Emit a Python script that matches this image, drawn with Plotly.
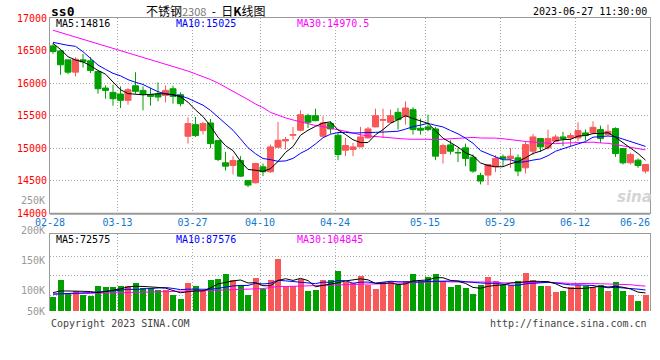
import plotly.graph_objects as go
import pandas as pd

# ---------------- data ----------------
dates = ["02-28",
         "03-01", "03-02", "03-03", "03-06", "03-07", "03-08", "03-09", "03-10", "03-13", "03-14",
         "03-15", "03-16", "03-17", "03-20", "03-21", "03-22", "03-23", "03-24", "03-27", "03-28",
         "03-29", "03-30", "03-31",
         "04-03", "04-04", "04-06", "04-07", "04-10", "04-11", "04-12", "04-13", "04-14", "04-17",
         "04-18", "04-19", "04-20", "04-21", "04-24", "04-25", "04-26", "04-27", "04-28",
         "05-04", "05-05", "05-08", "05-09", "05-10", "05-11", "05-12", "05-15", "05-16", "05-17",
         "05-18", "05-19", "05-22", "05-23", "05-24", "05-25", "05-26", "05-29", "05-30", "05-31",
         "06-01", "06-02", "06-05", "06-06", "06-07", "06-08", "06-09", "06-12", "06-13", "06-14",
         "06-15", "06-16", "06-19", "06-20", "06-21", "06-26", "06-27"]

opens = [16571, 16495, 16357, 16168, 16357, 16342, 16179, 15924, 15857, 15832,
         15735, 15959, 15888, 15822, 15832, 15811, 15913, 15822, 15184, 15362,
         15270, 15388, 15117, 14776, 14735, 14812, 14505, 14469, 14714, 14638,
         15015, 15112, 15199, 15276, 15500, 15500, 15184, 15378, 15199, 14969,
         14980, 15020, 15158, 15327, 15429, 15398, 15551, 15490, 15592, 15306,
         15327, 15296, 14918, 15051, 14934, 15005, 14862, 14582, 14587, 14714,
         14867, 14842, 14852, 14699, 14954, 15148, 15005, 15107, 15173, 15158,
         15158, 15235, 15235, 15286, 15209, 15301, 14995, 14775, 14816, 14648]
highs = [16612, 16520, 16357, 16398, 16449, 16398, 16179, 15964, 15975, 15950,
         15924, 16168, 15950, 15930, 16010, 15964, 15959, 15857, 15474, 15480,
         15403, 15449, 15117, 14944, 14878, 14878, 14505, 14776, 14765, 15056,
         15403, 15173, 15327, 15582, 15531, 15607, 15490, 15413, 15235, 15158,
         15082, 15327, 15327, 15607, 15607, 15592, 15617, 15719, 15628, 15454,
         15515, 15327, 15071, 15122, 15005, 15071, 14903, 14622, 14750, 14893,
         14903, 15005, 14903, 15107, 15219, 15148, 15286, 15209, 15250, 15235,
         15398, 15286, 15413, 15347, 15362, 15321, 15005, 14929, 14842, 14750]
lows = [16449, 16128, 16138, 16102, 16240, 16153, 15837, 15760, 15653, 15617,
        15668, 15837, 15582, 15653, 15720, 15704, 15684, 15643, 15071, 15173,
        15209, 15000, 14801, 14658, 14597, 14561, 14403, 14459, 14571, 14622,
        15005, 14980, 15133, 15260, 15311, 15413, 15184, 15224, 14816, 14878,
        14878, 15020, 15148, 15322, 15158, 15388, 15286, 15362, 15209, 15209,
        15260, 14816, 14765, 14903, 14786, 14725, 14622, 14444, 14434, 14633,
        14725, 14699, 14571, 14612, 14893, 14944, 14980, 15092, 15031, 15031,
        15107, 15117, 15235, 15082, 15194, 14867, 14750, 14750, 14699, 14612]
closes = [16485, 16281, 16168, 16367, 16327, 16194, 15913, 15888, 15760, 15735,
          15898, 15873, 15832, 15796, 15786, 15888, 15796, 15684, 15378, 15194,
          15378, 15071, 14827, 14724, 14812, 14571, 14434, 14765, 14638, 15020,
          15122, 15132, 15209, 15515, 15398, 15423, 15388, 15296, 14903, 15041,
          15020, 15173, 15296, 15500, 15439, 15500, 15439, 15617, 15286, 15276,
          15286, 14878, 15041, 14954, 14929, 14842, 14648, 14495, 14750, 14842,
          14842, 14878, 14648, 15056, 15173, 15020, 15148, 15173, 15143, 15194,
          15270, 15194, 15321, 15148, 15260, 14918, 14775, 14903, 14735, 14750]
volumes = [58000, 127000, 69000, 82000, 65000, 61000, 102000, 97000, 97000, 102000,
           102000, 115000, 93000, 93000, 86000, 86000, 65000, 47000, 116000, 102000,
           86000, 127000, 131000, 152000, 127000, 106000, 65000, 137000, 89000, 127000,
           214000, 102000, 102000, 131000, 82000, 86000, 127000, 127000, 165000, 118000,
           113000, 144000, 106000, 91000, 118000, 124000, 106000, 124000, 152000, 124000,
           138000, 152000, 124000, 97000, 106000, 93000, 69000, 106000, 138000, 124000,
           106000, 106000, 123000, 155000, 127000, 102000, 102000, 79000, 83000, 100000,
           106000, 102000, 100000, 106000, 83000, 120000, 83000, 65000, 41000, 65000]

# moving-average values before a full window exists
ma5_head = [16610, 16518, 16405, 16354]
ma10_head = [16626, 16600, 16580, 16565, 16482, 16380, 16277, 16211, 16150]
ma30_head = [16812, 16777, 16743, 16708, 16674, 16639, 16604, 16570, 16535, 16501,
             16466, 16432, 16397, 16362, 16332, 16293, 16255, 16224, 16185, 16142,
             16101, 16055, 16001, 15939, 15878, 15816, 15747, 15678, 15624]
vol_ma5_head = [76000, 83000, 83000, 82000]
vol_ma10_head = [70000, 72000, 73000, 74000, 75000, 76000, 78000, 80000, 83000]
vol_ma30_head = [70000, 71000, 71500, 72000, 72500, 73000, 74000, 74500, 75000, 76000,
                 76500, 77000, 78000, 78500, 79000, 80000, 80500, 81000, 82000, 83000,
                 84000, 85000, 86000, 87000, 88000, 89000, 90000, 91000, 93000]

tick_dates = ["02-28", "03-13", "03-27", "04-10", "04-24", "05-15", "05-29", "06-12", "06-26"]
grid_dates = ["03-13", "03-27", "04-10", "04-24", "05-15", "05-29", "06-12"]
price_ticks = [14000, 14500, 15000, 15500, 16000, 16500, 17000]
vol_grid = [65000, 147000, 227000]
vol_labels = ["250K", "200K", "150K", "100K", "50K"]

title_name = "不锈钢"
title_code = "2308"
symbol = "ss0"
stamp = "2023-06-27 11:30:00"
ma_price_text = ["MA5:14816", "MA10:15025", "MA30:14970.5"]
ma_vol_text = ["MA5:72575", "MA10:87576", "MA30:104845"]

# ---------------- derived ----------------
RED = "#F95858"
GREEN = "#00A000"
MONO = "DejaVu Sans Mono"


def moving(vals, n, head):
    s = pd.Series(vals, dtype=float).rolling(n).mean().tolist()
    return list(head) + s[len(head):]


idx = list(range(len(dates)))
ma5 = moving(closes, 5, ma5_head)
ma10 = moving(closes, 10, ma10_head)
ma30 = moving(closes, 30, ma30_head)
vma5 = moving(volumes, 5, vol_ma5_head)
vma10 = moving(volumes, 10, vol_ma10_head)
vma30 = moving(volumes, 30, vol_ma30_head)
vcolors = [RED if c >= o else GREEN for o, c in zip(opens, closes)]

label_pos = [dates.index(d) - 0.4 for d in tick_dates]
grid_pos = [dates.index(d) - 0.4 + 0.01 for d in grid_dates]

fig = go.Figure()
fig.add_trace(go.Candlestick(
    x=idx, open=opens, high=highs, low=lows, close=closes,
    increasing=dict(line=dict(color=RED, width=1), fillcolor=RED),
    decreasing=dict(line=dict(color=GREEN, width=1), fillcolor=GREEN),
    whiskerwidth=0, showlegend=False, hoverinfo="skip", xaxis="x", yaxis="y"))
for vals, col in [(ma30, "#FF00FF"), (ma10, "#0000FF"), (ma5, "#000000")]:
    fig.add_trace(go.Scatter(x=idx, y=vals, mode="lines", line=dict(color=col, width=1),
                             showlegend=False, hoverinfo="skip", xaxis="x", yaxis="y"))

fig.add_trace(go.Bar(x=idx, y=volumes, marker=dict(color=vcolors, line=dict(width=0)),
                     width=0.8, showlegend=False, hoverinfo="skip", xaxis="x2", yaxis="y2"))
for vals, col in [(vma30, "#FF00FF"), (vma10, "#0000FF"), (vma5, "#000000")]:
    fig.add_trace(go.Scatter(x=idx, y=vals, mode="lines", line=dict(color=col, width=1),
                             showlegend=False, hoverinfo="skip", xaxis="x2", yaxis="y2"))

GRID = "#a8a8a8"
BORDER = "#9a9a9a"
minor = dict(tickmode="array", tickvals=grid_pos, showgrid=True, gridcolor=GRID,
             griddash="1px,2px", gridwidth=1, ticks="")

W, H = 660, 360
ML, MR, MT, MB = 50, 10, 18, 49
PH = H - MT - MB


def py(p):
    return (H - MB - p) / PH


def px(p):
    return (p - ML) / (W - ML - MR)


fig.update_layout(
    width=W, height=H, margin=dict(l=ML, r=MR, t=MT, b=MB),
    paper_bgcolor="white", plot_bgcolor="white",
    boxgap=0.2, boxgroupgap=0, bargap=0,
    font=dict(family=MONO, size=10, color="#000"),
    xaxis=dict(domain=[0, 1], anchor="y", range=[-0.4, 79.6], rangeslider=dict(visible=False),
               tickmode="array", tickvals=label_pos, ticktext=tick_dates, showgrid=False,
               tickfont=dict(family=MONO, size=10, color="#1278D0"), ticks="",
               showline=True, mirror=True, linecolor=BORDER, linewidth=1, zeroline=False,
               minor=minor),
    yaxis=dict(domain=[py(213.3), 1], anchor="x", range=[14000, 17000],
               tickmode="array", tickvals=price_ticks, ticktext=[str(v) for v in price_ticks],
               tickfont=dict(family=MONO, size=10, color="#FF0000"), ticks="",
               showgrid=True, gridcolor=GRID, griddash="1px,2px", gridwidth=1,
               showline=True, mirror=True, linecolor=BORDER, linewidth=1, zeroline=False),
    xaxis2=dict(domain=[0, 1], anchor="y2", range=[-0.4, 79.6], side="top",
                showticklabels=False, ticks="", showgrid=False, zeroline=False,
                showline=True, linecolor=BORDER, linewidth=1, minor=minor),
    yaxis2=dict(domain=[0, py(234.3)], anchor="x2", range=[0, 318000],
                tickmode="array", tickvals=vol_grid, showticklabels=False, ticks="",
                showgrid=True, gridcolor=GRID, griddash="1px,2px", gridwidth=1,
                showline=True, mirror=True, linecolor=BORDER, linewidth=1, zeroline=False),
    shapes=[dict(type="line", xref="paper", yref="paper", x0=0, x1=1,
                 y0=py(213.8), y1=py(213.8), line=dict(color="#999999", width=2))],
)

ann = []
# volume axis labels
for lab, yy in zip(vol_labels, [200, 230, 260, 290.7, 311]):
    ann.append(dict(x=px(47), y=py(yy), xref="paper", yref="paper", text=lab, showarrow=False,
                    xanchor="right", yanchor="middle", font=dict(family=MONO, size=10, color="#999999")))
# MA legends
for txt, col, x0 in zip(ma_price_text, ["#000000", "#0000FF", "#FF00FF"], [54, 174, 295]):
    ann.append(dict(x=px(x0), y=py(23.5), xref="paper", yref="paper", text=txt, showarrow=False,
                    xanchor="left", yanchor="middle", font=dict(family=MONO, size=10, color=col)))
for txt, col, x0 in zip(ma_vol_text, ["#000000", "#0000FF", "#FF00FF"], [54, 174, 295]):
    ann.append(dict(x=px(x0), y=py(239), xref="paper", yref="paper", text=txt, showarrow=False,
                    xanchor="left", yanchor="middle", font=dict(family=MONO, size=10, color=col)))
# header
ann.append(dict(x=px(49), y=py(11), xref="paper", yref="paper", text="<b>" + symbol + "</b>",
                showarrow=False, xanchor="left", yanchor="middle",
                font=dict(family=MONO, size=13, color="#000")))
ann.append(dict(x=px(206), y=py(10), xref="paper", yref="paper",
                text=title_name + "<span style='color:#777777;font-size:11px'>" + title_code +
                     "</span>  -  日<b>K</b>线图",
                showarrow=False, xanchor="center", yanchor="middle",
                font=dict(family="Noto Sans CJK SC", size=12, color="#000")))
ann.append(dict(x=px(649), y=py(11.5), xref="paper", yref="paper", text=stamp, showarrow=False,
                xanchor="right", yanchor="middle", font=dict(family=MONO, size=10, color="#000")))
# footer
ann.append(dict(x=px(49), y=py(323), xref="paper", yref="paper", text="Copyright 2023 SINA.COM",
                showarrow=False, xanchor="left", yanchor="middle",
                font=dict(family=MONO, size=10, color="#444444")))
ann.append(dict(x=px(649), y=py(323), xref="paper", yref="paper", text="http://finance.sina.com.cn",
                showarrow=False, xanchor="right", yanchor="middle",
                font=dict(family=MONO, size=10, color="#444444")))
# watermark
ann.append(dict(x=px(634), y=py(197), xref="paper", yref="paper", text="<b><i>sina</i></b>",
                showarrow=False, xanchor="center", yanchor="middle",
                font=dict(family="DejaVu Sans", size=15, color="#d4d4d4")))
fig.update_layout(annotations=ann)

fig.write_html("out.html", config={"displayModeBar": False},
               post_script="document.body.style.margin='0px';")
